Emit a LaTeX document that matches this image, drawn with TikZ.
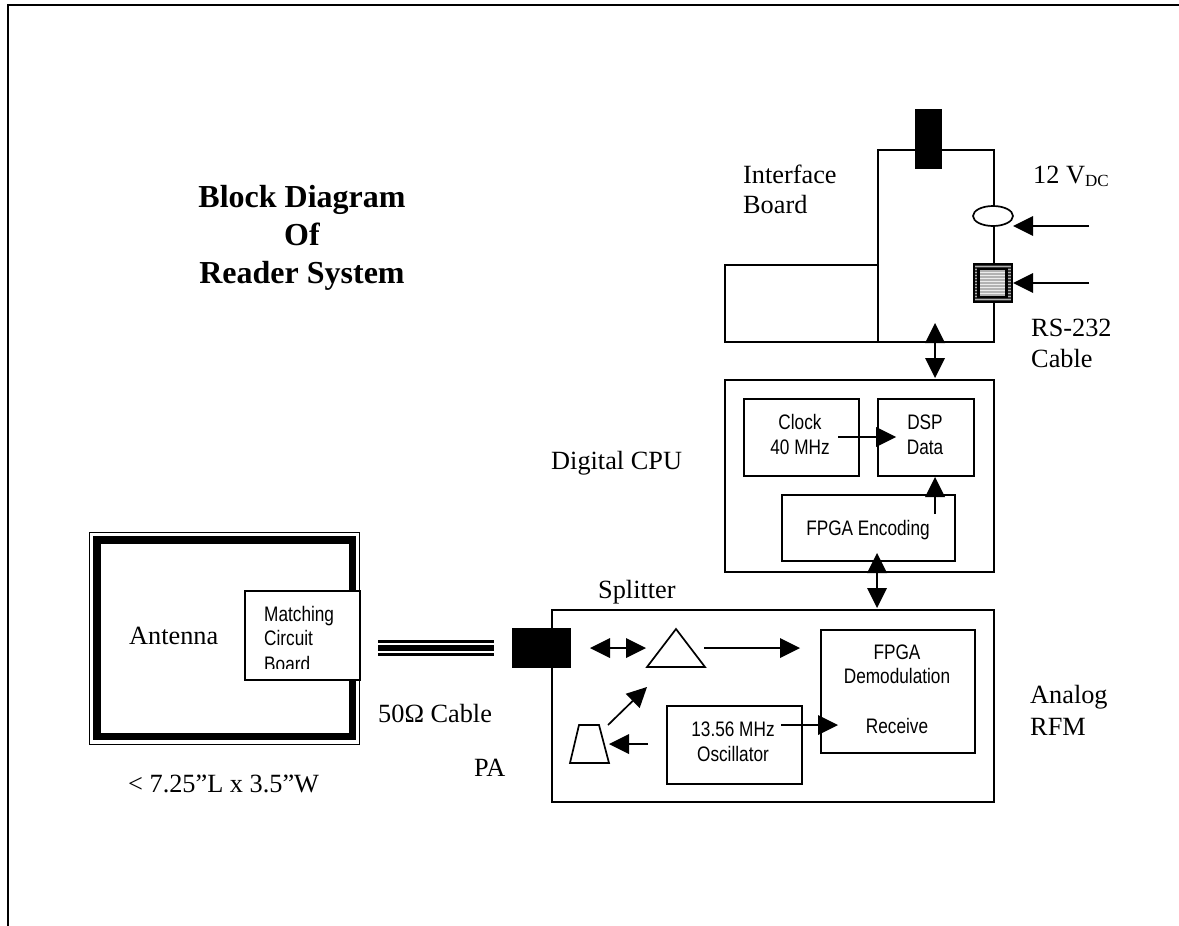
\documentclass[tikz,border=0pt]{standalone}
\usepackage{fontspec}
\setmainfont{Liberation Serif}
\newfontfamily\narrowsans[FakeStretch=0.82]{Liberation Sans}
\usetikzlibrary{arrows.meta,shapes.geometric}
\tikzset{
  x=1pt,y=-1pt,
  thinline/.style={draw=black,line width=1.7pt},
  box/.style={thinline,fill=white},
  arr/.style={line width=1.7pt,-{Triangle[length=20pt,width=20pt,line width=0pt]},shorten >=0pt},
  dbl/.style={line width=1.7pt,{Triangle[length=20pt,width=20pt,line width=0pt]}-{Triangle[length=20pt,width=20pt,line width=0pt]}},
  serif/.style={inner sep=0pt,anchor=base west,font=\fontsize{26.3}{30}\selectfont},
  title/.style={inner sep=0pt,anchor=base,font=\fontsize{32}{36}\selectfont\bfseries},
  sans/.style={inner sep=0pt,anchor=base,font=\fontsize{21}{25}\selectfont\narrowsans},
  blackblock/.style={fill=black,draw=none}
}
\begin{document}
\begin{tikzpicture}
\useasboundingbox (0,0) rectangle (1179,926);
\fill[white] (0,0) rectangle (1179,926);
% page border
\coordinate (pbl) at (8,926);
\coordinate (ptl) at (8,5);
\coordinate (ptr) at (1179,5);
\draw[draw=black,line width=2.2pt] (pbl) -- (ptl) -- (ptr);
% title
\node[title] (t1) at (302,207) {Block Diagram};
\node[title] (t2) at (302,245) {Of};
\node[title] (t3) at (302,283) {Reader System};
% interface board
\node[box,minimum width=116pt,minimum height=192pt,anchor=north west,inner sep=0pt] (iface) at (877,149) {};
\node[box,minimum width=153pt,minimum height=77pt,anchor=north west,inner sep=0pt] (ifaceext) at (724,264) {};
\node[blackblock,minimum width=27pt,minimum height=60pt,anchor=north west,inner sep=0pt] (topconn) at (915,109) {};
\node[ellipse,box,minimum width=40pt,minimum height=20pt,inner sep=0pt] (pwr) at (993,216) {};
\node[serif] (ib1) at (743,183) {Interface};
\node[serif] (ib2) at (743,213) {Board};
\node[serif] (v12) at (1033,183) {12 V\raisebox{-0.25ex}{\fontsize{17}{20}\selectfont DC}};
\node[serif] (rs1) at (1031,336) {RS-232};
\node[serif] (rs2) at (1031,367) {Cable};
% RS-232 connector
\node[draw=black,line width=2pt,fill=gray!45!black,minimum size=38pt,inner sep=0pt] (rsconn) at (993,283) {};
\foreach \yy in {266,269,272,275,278,281,284,287,290,293,296,299}
  \draw[gray!60,line width=0.8pt] (975,\yy) -- (1011,\yy);
\node[draw=black,line width=2.5pt,fill=gray!60,minimum size=28pt,inner sep=0pt] (rsin) at (992.5,283) {};
\foreach \yy in {272,275,278,281,284,287,290,293}
  \draw[white!85!gray,line width=1pt] (980,\yy) -- (1005,\yy);
\coordinate (a12s) at (1089,226);
\coordinate (a12e) at (1013,226);
\draw[arr] (a12s) -- (a12e);
\coordinate (arss) at (1089,283);
\coordinate (arse) at (1013,283);
\draw[arr] (arss) -- (arse);
% CPU
\node[box,minimum width=269pt,minimum height=192pt,anchor=north west,inner sep=0pt] (cpu) at (724,379) {};
\node[box,minimum width=115pt,minimum height=77pt,anchor=north west,inner sep=0pt] (clock) at (743,398) {};
\node[box,minimum width=96pt,minimum height=77pt,anchor=north west,inner sep=0pt] (dsp) at (877,398) {};
\node[box,minimum width=173pt,minimum height=66pt,anchor=north west,inner sep=0pt] (enc) at (781,494) {};
\node[sans] (c1) at (800,429) {Clock};
\node[sans] (c2) at (800,454) {40 MHz};
\node[sans] (d1) at (925,429) {DSP};
\node[sans] (d2) at (925,454) {Data};
\node[sans] (e1) at (868,535) {FPGA Encoding};
\node[serif] (dc) at (551,469) {Digital CPU};
\coordinate (ifa) at (935,323);
\coordinate (ifb) at (935,378);
\draw[dbl] (ifa) -- (ifb);
\coordinate (cka) at (838,437);
\coordinate (ckb) at (896,437);
\draw[arr] (cka) -- (ckb);
\coordinate (ena) at (935,514);
\coordinate (enb) at (935,477);
\draw[arr] (ena) -- (enb);
% RFM
\node[box,minimum width=442pt,minimum height=192pt,anchor=north west,inner sep=0pt] (rfm) at (551,609) {};
\node[blackblock,minimum width=59pt,minimum height=40pt,anchor=north west,inner sep=0pt] (split) at (512,628) {};
\node[box,minimum width=154pt,minimum height=123pt,anchor=north west,inner sep=0pt] (demod) at (820,629) {};
\node[box,minimum width=135pt,minimum height=78pt,anchor=north west,inner sep=0pt] (osc) at (666,705) {};
\node[sans] (f1) at (897,659) {FPGA};
\node[sans] (f2) at (897,683) {Demodulation};
\node[sans] (f3) at (897,733) {Receive};
\node[sans] (o1) at (733,736) {13.56 MHz};
\node[sans] (o2) at (733,761) {Oscillator};
\draw[thinline] (676,629) -- (705,667) -- (647,667) -- cycle;
\draw[thinline] (579,725) -- (599,725) -- (609,763) -- (570,763) -- cycle;
\node[serif] (sp) at (598,598) {Splitter};
\node[serif] (an1) at (1030,703) {Analog};
\node[serif] (an2) at (1030,735) {RFM};
\node[serif] (pa) at (474,776) {PA};
\coordinate (cpa) at (877,553);
\coordinate (cpb) at (877,608);
\draw[dbl] (cpa) -- (cpb);
\coordinate (spa) at (590,648);
\coordinate (spb) at (646,648);
\draw[dbl] (spa) -- (spb);
\coordinate (tra) at (704,648);
\coordinate (trb) at (800,648);
\draw[arr] (tra) -- (trb);
\coordinate (paa) at (608,725);
\coordinate (pab) at (647,687);
\draw[arr] (paa) -- (pab);
\coordinate (osa) at (648,744);
\coordinate (osb) at (609,744);
\draw[arr] (osa) -- (osb);
\coordinate (oda) at (781,725);
\coordinate (odb) at (838,725);
\draw[arr] (oda) -- (odb);
% antenna
\draw[line width=1.5pt] (89.5,532.5) rectangle (359.5,744.5);
\draw[line width=7.5pt] (97,540) rectangle (352.5,736.5);
\node[box,minimum width=115pt,minimum height=89pt,anchor=north west,inner sep=0pt] (match) at (244,590) {};
\node[serif] (ant) at (129,644) {Antenna};
\node[sans,anchor=base west] (m1) at (264,621) {Matching};
\node[sans,anchor=base west] (m2) at (264,645) {Circuit};
\begin{scope}
\clip (250,650) rectangle (350,668);
\node[sans,anchor=base west] (m3) at (264,671) {Board};
\end{scope}
\node[serif] (dim) at (128,792) {< 7.25”L x 3.5”W};
% cable
\coordinate (cba) at (378,641.5);
\coordinate (cbb) at (494,641.5);
\draw[line width=2.5pt] (cba) -- (cbb);
\coordinate (cbc) at (378,648);
\coordinate (cbd) at (494,648);
\draw[line width=6.5pt] (cbc) -- (cbd);
\coordinate (cbe) at (378,654.5);
\coordinate (cbf) at (494,654.5);
\draw[line width=2.5pt] (cbe) -- (cbf);
\node[serif] (cab) at (378,722) {50Ω Cable};
\end{tikzpicture}
\end{document}
